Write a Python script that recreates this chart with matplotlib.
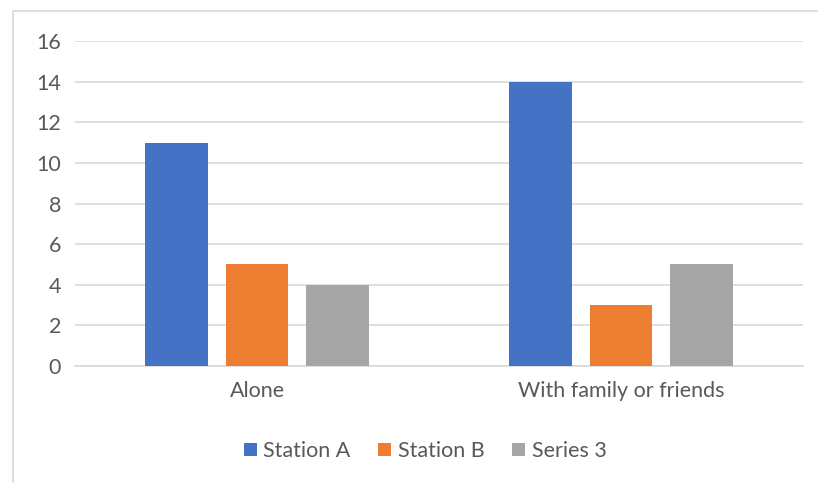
import matplotlib
matplotlib.use("Agg")
import matplotlib.pyplot as plt
import numpy as np
from matplotlib.patches import Rectangle

categories = ["Alone", "With family or friends"]
series_names = ["Station A", "Station B", "Series 3"]
station_a = [11, 14]
station_b = [5, 3]
series_3 = [4, 5]
colors = ["#4472C4", "#ED7D31", "#A5A5A5"]
yticks = [0, 2, 4, 6, 8, 10, 12, 14, 16]

plt.rcParams['font.family'] = ['Lato', 'DejaVu Sans']
W, H = 818, 483
fig = plt.figure(figsize=(W / 100, H / 100), dpi=100)
fig.patch.set_facecolor("white")

# outer chart border
fig.add_artist(Rectangle((13 / W, -0.1), 1.2, 1 - 11 / H + 0.1, transform=fig.transFigure,
                         fill=False, edgecolor="#D9D9D9", linewidth=1.2))

ax = fig.add_axes([75 / W, 1 - 366 / H, (803 - 75) / W, (366 - 41) / H])
x = np.arange(len(categories))
width = 0.173
offset = 0.22
for i, (vals, name) in enumerate(zip([station_a, station_b, series_3], series_names)):
    ax.bar(x + (i - 1) * offset, vals, width, color=colors[i], label=name, zorder=3)

ax.set_xlim(-0.5, 1.5)
ax.set_ylim(0, 16)
ax.set_yticks(yticks)
ax.set_xticks(x)
ax.set_xticklabels(categories)
ax.grid(axis="y", color="#D9D9D9", linewidth=1.2, zorder=0)
for s in ax.spines.values():
    s.set_visible(False)
ax.spines["bottom"].set_visible(True)
ax.spines["bottom"].set_color("#D9D9D9")
ax.spines["bottom"].set_linewidth(1.2)
ax.tick_params(axis="both", length=0, colors="#595959", labelsize=15.5)
ax.tick_params(axis="y", pad=10)
ax.tick_params(axis="x", pad=11)

leg = ax.legend(loc="center", bbox_to_anchor=(0.481, -0.262), ncol=3, frameon=False,
                fontsize=15.5, handlelength=0.6, handleheight=0.6, handletextpad=0.3,
                columnspacing=1.3)
for t in leg.get_texts():
    t.set_color("#595959")

fig.savefig("out.png", dpi=100)
